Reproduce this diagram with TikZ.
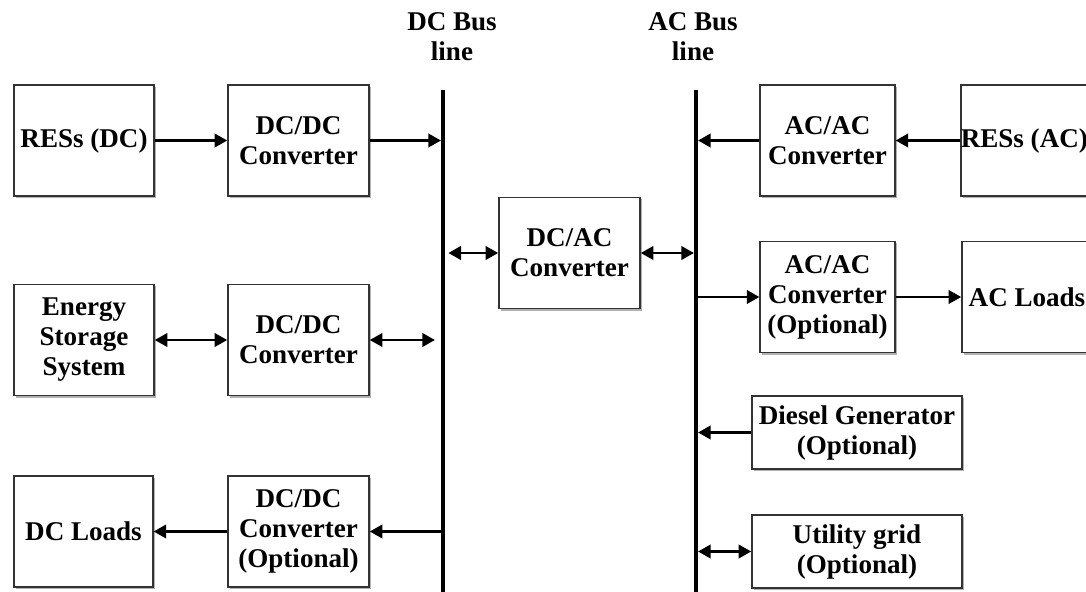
\documentclass[tikz,border=0pt]{standalone}
\usepackage{fontspec}
\setmainfont{Liberation Serif}
\usetikzlibrary{arrows.meta,shadows}

\begin{document}
\begin{tikzpicture}[
  x=0.75pt, y=-0.75pt,
  blk/.style={draw=black!80, line width=1.1pt, fill=white, align=center,
    inner sep=0pt, font=\bfseries\fontsize{20.3}{22.5}\selectfont,
    drop shadow={shadow xshift=1.4pt, shadow yshift=-1.4pt, fill=black!30, opacity=1}},
  conv/.style={blk, minimum width=105.75pt, minimum height=83.5pt},
  wide/.style={blk, minimum width=157.5pt, minimum height=54.75pt},
  bus/.style={line width=3.2pt},
  tip/.style={},
  lnk/.style={line width=2.2pt, -{Triangle[length=9.5pt,width=10pt]}},
  bilnk/.style={line width=2.2pt, {Triangle[length=9.5pt,width=10pt]}-{Triangle[length=9.5pt,width=10pt]}},
  lbl/.style={font=\bfseries\fontsize{20.3}{22.5}\selectfont, align=center}
]
\useasboundingbox (0,0) rectangle (1086,592);

% bus lines
\coordinate (dctop) at (443,90);
\coordinate (dcbot) at (443,592);
\coordinate (actop) at (696,90);
\coordinate (acbot) at (696,592);
\draw[bus] (dctop) -- (dcbot);
\draw[bus] (actop) -- (acbot);
\node[lbl] (dclbl) at (452,37) {DC Bus\\line};
\node[lbl] (aclbl) at (693,37) {AC Bus\\line};

% DC side
\node[conv, minimum width=105pt] (resdc) at (84,140.5) {RESs (DC)};
\node[conv] (dcdc1) at (298.5,140.5) {DC/DC\\Converter};
\node[conv, minimum width=105pt] (ess) at (84,340) {Energy\\Storage\\System};
\node[conv] (dcdc2) at (298.5,340) {DC/DC\\Converter};
\node[conv, minimum width=104pt] (dcload) at (83.5,531.5) {DC Loads};
\node[conv] (dcdc3) at (298.5,531.5) {DC/DC\\Converter\\(Optional)};

% interlinking converter
\node[conv] (dcac) at (569.5,253) {DC/AC\\Converter};

% AC side
\node[conv, minimum width=101pt] (acac1) at (827.5,140.5) {AC/AC\\Converter};
\node[conv, minimum width=97.5pt] (resac) at (1027,140.5) {RESs (AC)\rule{4pt}{0pt}};
\node[conv, minimum width=101pt] (acac2) at (827.5,297) {AC/AC\\Converter\\(Optional)};
\node[conv, minimum width=97.5pt] (acload) at (1027,297) {AC Loads};
\node[wide] (diesel) at (857,432.5) {Diesel Generator\\(Optional)};
\node[wide] (grid) at (857,551.5) {Utility grid\\(Optional)};

% DC side connections
\draw[lnk] (resdc.east) -- (dcdc1.west);
\draw[lnk, shorten >=1.5pt] (dcdc1.east) -- (dcdc1.east -| dctop);
\draw[bilnk] (ess.east) -- (dcdc2.west);
\draw[bilnk, shorten >=6pt] (dcdc2.east) -- (dcdc2.east -| dctop);
\draw[lnk, shorten <=1.5pt] (dcdc3.east -| dctop) -- (dcdc3.east);
\draw[lnk] (dcdc3.west) -- (dcload.east);

% interlinking connections
\draw[bilnk, shorten >=4pt] (dcac.west) -- (dcac.west -| dctop);
\draw[bilnk, shorten >=1.5pt] (dcac.east) -- (dcac.east -| actop);

% AC side connections
\draw[lnk, shorten >=1.5pt] (acac1.west) -- (acac1.west -| actop);
\draw[lnk] (resac.west) -- (acac1.east);
\draw[lnk, shorten <=1.5pt] (acac2.west -| actop) -- (acac2.west);
\draw[lnk] (acac2.east) -- (acload.west);
\draw[lnk, shorten >=1.5pt] (diesel.west) -- (diesel.west -| actop);
\draw[bilnk, shorten >=1.5pt] (grid.west) -- (grid.west -| actop);
\end{tikzpicture}
\end{document}
